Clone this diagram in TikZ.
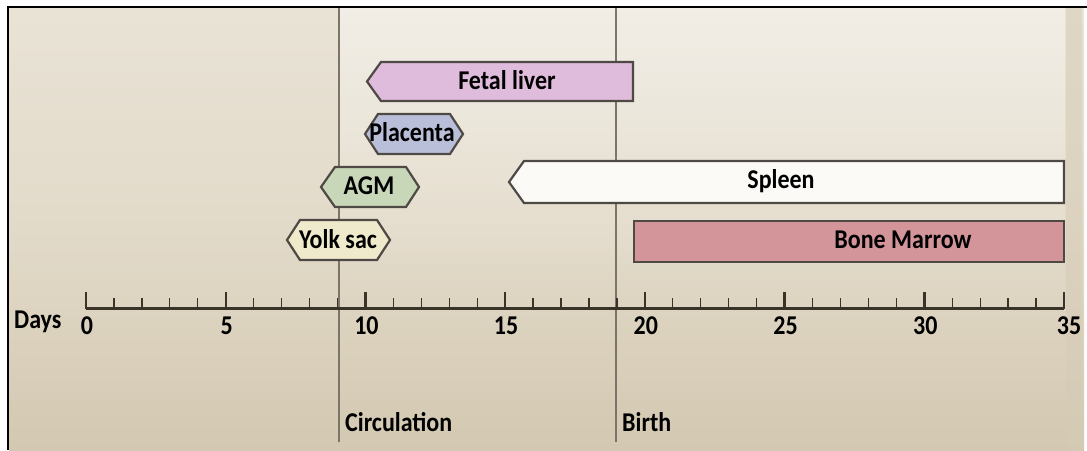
\documentclass[tikz,border=0pt]{standalone}
\usepackage{fontspec}
\usepackage{graphicx}
\setmainfont{Carlito}
\usetikzlibrary{fadings}
\definecolor{bgtop}{HTML}{E9E3D6}
\definecolor{bgmid}{HTML}{E2DAC9}
\definecolor{bgbot}{HTML}{D3C8B1}
\definecolor{edge}{HTML}{4E4944}
\definecolor{liverfill}{HTML}{DFBCDC}
\definecolor{placfill}{HTML}{B9BFD8}
\definecolor{agmfill}{HTML}{C9D7B9}
\definecolor{yolkfill}{HTML}{EFEACB}
\definecolor{spleenfill}{HTML}{FBFAF6}
\definecolor{marrowfill}{HTML}{D3959A}
\definecolor{axiscol}{HTML}{3A3328}
\definecolor{vline}{HTML}{7C7466}
\newcommand{\tallt}[1]{\scalebox{1}[1.13]{#1}}
\tikzset{
  bar/.style={draw=edge, line width=2.2pt, line join=miter},
  lbl/.style={font=\bfseries\fontsize{24}{28}\selectfont, text=black, inner sep=0pt},
  numlbl/.style={font=\bfseries\fontsize{24}{28}\selectfont, text=black, inner sep=0pt, anchor=north},
  marker/.style={draw=vline, line width=1.4pt},
}
\begin{document}
\begin{tikzpicture}[x=1pt,y=-1pt]
\useasboundingbox (0,0) rectangle (1087,450);
% background
\fill[white] (0,0) rectangle (1087,450);
\shade[top color=bgtop, bottom color=bgbot, middle color=bgmid] (9,8) rectangle (1084,450);
\fill[white, opacity=0.4, path fading=south] (340,8) rectangle (1066,300);
\fill[bgbot!80!bgmid, opacity=0.5] (1066,8) rectangle (1082,450);
% frame
\draw[black, line width=2pt] (8,450) -- (8,7) -- (1087,7);
% vertical markers
\coordinate (circtop) at (339,8);
\coordinate (circbot) at (339,442);
\coordinate (birthtop) at (616,8);
\coordinate (birthbot) at (616,442);
\draw[marker] (circtop) -- (circbot);
\draw[marker] (birthtop) -- (birthbot);
% bars
\draw[bar, fill=liverfill] (381,62) -- (633,62) -- (633,101) -- (381,101) -- (367,81.5) -- cycle;
\node[lbl] (liver) at (507,80) {\tallt{Fetal liver}};
\draw[bar, fill=placfill] (378,114) -- (450,114) -- (463,134) -- (450,154) -- (378,154) -- (365,134) -- cycle;
\node[lbl] (placenta) at (412,132) {\tallt{Placenta}};
\draw[bar, fill=agmfill] (335,167) -- (406,167) -- (419,187) -- (406,207) -- (335,207) -- (321,187) -- cycle;
\node[lbl] (agm) at (369,186) {\tallt{AGM}};
\draw[bar, fill=yolkfill] (300,220) -- (377,220) -- (390,240) -- (377,260) -- (300,260) -- (287,240) -- cycle;
\node[lbl] (yolk) at (338,239) {\tallt{Yolk sac}};
\draw[bar, fill=spleenfill] (524,161) -- (1064,161) -- (1064,203) -- (524,203) -- (509,182) -- cycle;
\node[lbl] (spleen) at (781,181) {\tallt{Spleen}};
\draw[bar, fill=marrowfill] (634,221) rectangle (1064,262);
\node[lbl] (marrow) at (903,240) {\tallt{Bone Marrow}};
% axis
\coordinate (ax0) at (86,308);
\coordinate (ax35) at (1064,308);
\foreach \d in {1,...,34} {
  \draw[axiscol, line width=1.3pt] ({86+\d*27.943},308) -- ({86+\d*27.943},298);
}
\foreach \d in {0,5,...,35} {
  \draw[axiscol, line width=2.4pt] ({86+\d*27.943},309) -- ({86+\d*27.943},292);
}
\foreach \d in {0,5,...,30} {
  \node[numlbl] (n\d) at ({87+\d*27.943},317) {\tallt{\d}};
}
\node[numlbl] (n35) at (1069,317) {\tallt{35}};
\draw[axiscol, line width=3pt] (ax0) -- (ax35);
\node[lbl, anchor=west] (days) at (14,322) {\tallt{Days}};
\node[lbl, anchor=base west] (circ) at (345,431) {\tallt{Circulation}};
\node[lbl, anchor=base west] (birth) at (622,431) {\tallt{Birth}};
\end{tikzpicture}
\end{document}
